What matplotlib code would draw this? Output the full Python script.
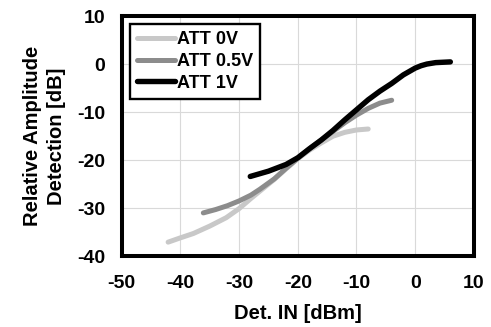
import matplotlib
matplotlib.use('Agg')
import matplotlib.pyplot as plt

plt.rcParams['font.family'] = ['Liberation Sans', 'DejaVu Sans']
plt.rcParams['font.weight'] = 'bold'
plt.rcParams['axes.unicode_minus'] = False

# ATT 0V
x_0v = [-42.1, -40, -37.8, -35, -32.2, -30, -28, -26.5, -24, -22, -20, -18, -16, -14, -12, -10, -8]
y_0v = [-37.1, -36.2, -35.3, -33.75, -32.0, -30.1, -28.0, -26.5, -24.0, -21.8, -19.7, -17.9, -16.4, -15.0, -14.2, -13.7, -13.5]

# ATT 0.5V
x_05v = [-36.1, -34, -32, -30, -28, -26.5, -24, -22, -20, -18, -16, -14, -12, -10, -8, -6, -4]
y_05v = [-31.0, -30.3, -29.5, -28.5, -27.3, -26.1, -23.9, -21.7, -19.6, -17.6, -15.8, -14.0, -12.2, -10.6, -9.2, -8.1, -7.5]

# ATT 1V
x_1v = [-28.1, -25, -22, -20, -18, -16, -14, -12, -10, -8, -6, -4, -2, 0, 1, 2, 3.5, 6]
y_1v = [-23.4, -22.3, -20.9, -19.5, -17.6, -15.8, -13.8, -11.6, -9.5, -7.4, -5.6, -4.0, -2.2, -0.8, -0.3, 0.05, 0.35, 0.5]

xticks = [-50, -40, -30, -20, -10, 0, 10]
yticks = [-40, -30, -20, -10, 0, 10]

fig = plt.figure(figsize=(4.91, 3.27), dpi=100)
ax = fig.add_axes([0.248, 0.217, 0.717, 0.733])

ax.plot(x_0v, y_0v, color='#c8c8c8', lw=3.6, solid_capstyle='round', label='ATT 0V')
ax.plot(x_05v, y_05v, color='#8c8c8c', lw=3.6, solid_capstyle='round', label='ATT 0.5V')
ax.plot(x_1v, y_1v, color='black', lw=3.9, solid_capstyle='round', label='ATT 1V')

ax.set_xlim(-50, 10)
ax.set_ylim(-40, 10)
ax.set_xticks(xticks)
ax.set_yticks(yticks)
ax.grid(True, color='#d9d9d9', lw=0.8)
ax.set_axisbelow(True)
ax.tick_params(axis='x', length=0, labelsize=14, pad=14)
ax.tick_params(axis='y', length=0, labelsize=14, pad=12)
for s in ax.spines.values():
    s.set_linewidth(2.9)

ax.set_xlabel('Det. IN [dBm]', fontsize=14.5, fontweight='bold', labelpad=8)
ax.set_ylabel('Relative Amplitude\nDetection [dB]', fontsize=14.5, fontweight='bold',
              labelpad=8, linespacing=1.3)

leg = ax.legend(loc='upper left', bbox_to_anchor=(0.023, 0.967), borderaxespad=0,
                fontsize=13, handlelength=2.1, handletextpad=0.1, labelspacing=0.25,
                fancybox=False, framealpha=1, edgecolor='black', borderpad=0.4)
leg.get_frame().set_linewidth(1.7)

plt.savefig('out.png', dpi=100)
